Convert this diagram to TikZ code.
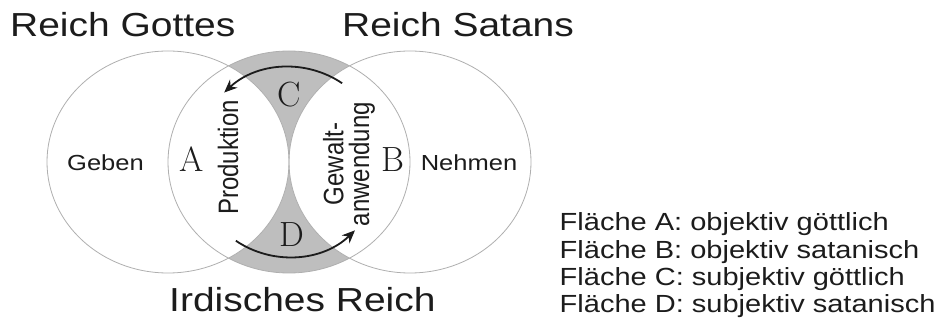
\documentclass[tikz,border=0pt]{standalone}
\usepackage{fontspec}
\newfontfamily\sansw[FakeStretch=1.17]{Liberation Sans}
\newfontfamily\sansn{Liberation Sans}
\usetikzlibrary{arrows.meta}
\definecolor{lensgray}{RGB}{190,190,190}
\definecolor{rim}{RGB}{175,175,175}
\definecolor{ink}{RGB}{28,28,28}
\begin{document}
\begin{tikzpicture}[x=1pt,y=1pt,
  title/.style={font=\sansw\fontsize{33.3}{40}\selectfont, text=ink, inner sep=0pt, anchor=base west},
  legend/.style={font=\sansw\fontsize{24.8}{30}\selectfont, text=ink, inner sep=0pt, anchor=base west},
  side/.style={font=\sansw\fontsize{21.8}{26}\selectfont, text=ink, inner sep=0pt, anchor=base},
  letter/.style={font=\fontsize{35}{40}\selectfont, text=ink, inner sep=0pt, anchor=base},
  vert/.style={font=\sansn\fontsize{24}{22}\selectfont, text=ink, inner sep=0pt, rotate=90, yscale=1.17, align=center},
  flow/.style={line width=1.8pt, -{Stealth[length=13pt,width=11pt]}, draw=ink},
  rimline/.style={draw=rim, line width=0.8pt},
  oval/.style={x radius=121pt, y radius=111pt}
]
\path[use as bounding box] (0,0) rectangle (945,326);

\coordinate (cL) at (168,164);
\coordinate (cM) at (289,164);
\coordinate (cR) at (410,164);

% shaded parts of the middle circle
\fill[fill=lensgray] (cM) ellipse [oval];
\fill[fill=white] (cL) ellipse [oval];
\fill[fill=white] (cR) ellipse [oval];

% outlines
\draw[rimline] (cL) ellipse [oval];
\draw[rimline] (cM) ellipse [oval];
\draw[rimline] (cR) ellipse [oval];

% titles
\node[title] (rg) at (10,289) {Reich Gottes};
\node[title] (rs) at (342,289) {Reich Satans};
\node[title] (ir) at (169,14) {Irdisches Reich};

% side words
\node[side] (geben) at (105.5,155) {Geben};
\node[side] (nehmen) at (469,155) {Nehmen};

% area letters
\node[letter] (la) at (191.5,154) {A};
\node[letter] (lb) at (392.5,154) {B};
\node[letter] (lc) at (289.5,219) {C};
\node[letter] (ld) at (292,79) {D};

% vertical labels
\node[vert] (prod) at (228,168.5) {Produktion};
\node[vert] (gew) at (349,162) {Gewalt-\\anwendung};

% arrows
\coordinate (ts) at ([shift={(56:95pt)}]cM);
\coordinate (bs) at ([shift={(-124:95pt)}]cM);
\draw[flow] (ts) arc[start angle=56, end angle=133, radius=95pt];
\draw[flow] (bs) arc[start angle=-124, end angle=-46, radius=95pt];

% legend
\node[legend] (leg1) at (559.5,95) {Fläche A: objektiv göttlich};
\node[legend] (leg2) at (559.5,67.7) {Fläche B: objektiv satanisch};
\node[legend] (leg3) at (559.5,40.5) {Fläche C: subjektiv göttlich};
\node[legend] (leg4) at (559.5,13) {Fläche D: subjektiv satanisch};
\end{tikzpicture}
\end{document}
